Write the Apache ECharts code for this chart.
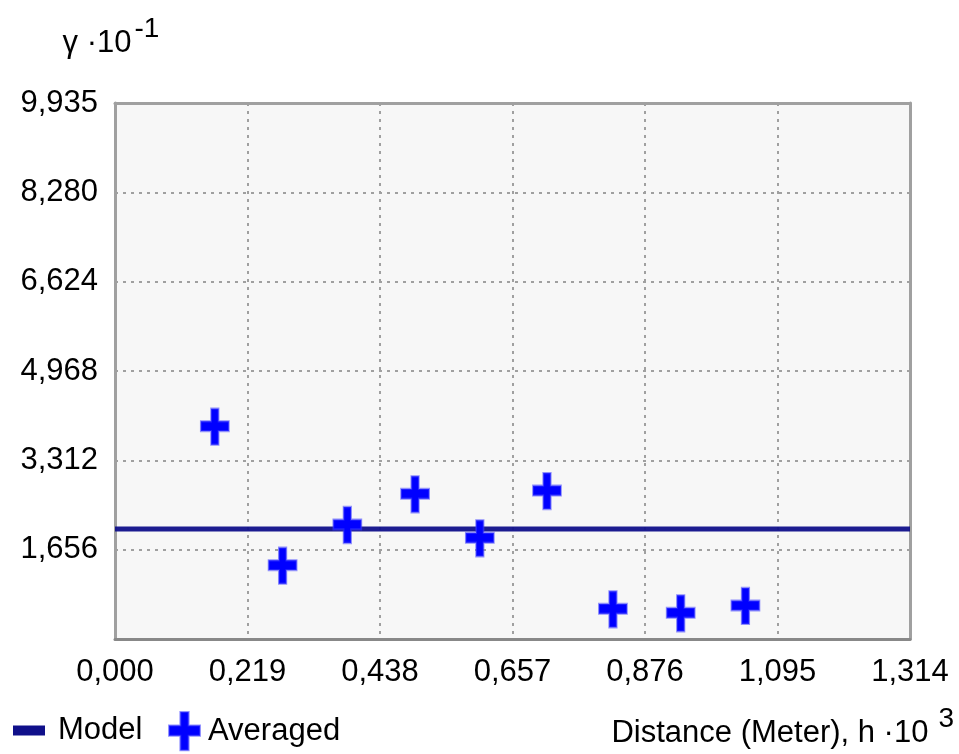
<!DOCTYPE html>
<html>
<head>
<meta charset="utf-8">
<script src="https://cdn.jsdelivr.net/npm/echarts@6/dist/echarts.min.js"></script>
<style>
  html, body { margin: 0; padding: 0; background: #ffffff; }
  #chart { width: 959px; height: 754px; }
</style>
</head>
<body>
<div id="chart"></div>
<script>
// Tick labels (decimal comma), as printed on the axes
const xTickLabels = ['0,000', '0,219', '0,438', '0,657', '0,876', '1,095', '1,314'];
const yTickLabels = ['', '1,656', '3,312', '4,968', '6,624', '8,280', '9,935'];

// Averaged semivariance per distance lag (h in 10^3 m, gamma in 10^-1)
const averagedX = [0.165, 0.277, 0.384, 0.496, 0.603, 0.714, 0.823, 0.935, 1.042];
const averagedY = [3.935, 1.359, 2.113, 2.682, 1.866, 2.743, 0.550, 0.476, 0.612];

// Fitted model: constant (pure nugget) level
const modelLevel = 2.039;

// Axis ranges
const xMax = 1.314;
const xStep = 0.219;
const yMax = 9.935;
const yStep = yMax / 6;

const FONT = "'Liberation Sans', Arial, sans-serif";
const FS = 31;
const PLUS = 'path://M11,0 H19 V13 H30 V23 H19 V37 H11 V23 H0 V13 H11 Z';

const chart = echarts.init(document.getElementById('chart'), null, { renderer: 'canvas' });

const dotted = { color: '#a0a0a0', width: 2, type: [3, 5] };

chart.setOption({
  animation: false,
  backgroundColor: '#ffffff',
  textStyle: { fontFamily: FONT, color: '#000' },
  grid: {
    left: 115, right: 49, top: 103, bottom: 115,
    show: true, backgroundColor: '#f7f7f7', borderWidth: 0
  },
  legend: [
    {
      data: [{ name: 'Model', icon: 'rect' }],
      left: 13, top: 715,
      itemWidth: 32, itemHeight: 10,
      padding: 0,
      textStyle: { fontFamily: FONT, fontSize: FS, color: '#000', padding: [0, 0, 0, 8] },
      selectedMode: false
    },
    {
      data: [{ name: 'Averaged', icon: PLUS }],
      left: 168, top: 711,
      itemWidth: 31, itemHeight: 40,
      padding: 0,
      textStyle: { fontFamily: FONT, fontSize: FS, color: '#000', padding: [0, 0, 0, 3] },
      selectedMode: false
    }
  ],
  xAxis: [
    {
      type: 'value', min: 0, max: xMax, interval: xStep,
      position: 'bottom',
      axisLine: { show: true, onZero: false, lineStyle: { color: '#888888', width: 3 } },
      axisTick: { show: false },
      splitLine: { show: true, lineStyle: dotted },
      axisLabel: {
        margin: 18, fontFamily: FONT, fontSize: FS, color: '#000',
        formatter: v => xTickLabels[Math.round(v / xStep)] ?? ''
      },
      name: '{m|Distance (Meter), h ·10}{s|3}',
      nameLocation: 'end',
      nameGap: 44,
      nameTextStyle: {
        align: 'right', verticalAlign: 'top', padding: [66, 0, 0, 0],
        rich: {
          m: { fontFamily: FONT, fontSize: FS, color: '#000', lineHeight: 44, verticalAlign: 'bottom' },
          s: { fontFamily: FONT, fontSize: 28, color: '#000', lineHeight: 14, verticalAlign: 'top', padding: [0, 0, 0, 10] }
        }
      }
    },
    {
      type: 'value', min: 0, max: xMax, position: 'top',
      axisLine: { show: true, onZero: false, lineStyle: { color: '#a0a0a0', width: 3 } },
      axisTick: { show: false }, axisLabel: { show: false }, splitLine: { show: false }
    }
  ],
  yAxis: [
    {
      type: 'value', min: 0, max: yMax, interval: yStep,
      position: 'left',
      axisLine: { show: true, onZero: false, lineStyle: { color: '#a0a0a0', width: 3 } },
      axisTick: { show: false },
      splitLine: { show: true, lineStyle: dotted },
      axisLabel: {
        margin: 17, fontFamily: FONT, fontSize: FS, color: '#000',
        formatter: v => yTickLabels[Math.round(v / yStep)] ?? ''
      },
      name: '{m|γ ·10}{s|-1}',
      nameLocation: 'end',
      nameGap: 44,
      nameTextStyle: {
        align: 'center', padding: [0, 8, 0, 0],
        rich: {
          m: { fontFamily: FONT, fontSize: FS, color: '#000', lineHeight: 44, verticalAlign: 'bottom' },
          s: { fontFamily: FONT, fontSize: 28, color: '#000', lineHeight: 12, verticalAlign: 'top', padding: [0, 0, 0, 3] }
        }
      }
    },
    {
      type: 'value', min: 0, max: yMax, position: 'right',
      axisLine: { show: true, onZero: false, lineStyle: { color: '#a0a0a0', width: 3 } },
      axisTick: { show: false }, axisLabel: { show: false }, splitLine: { show: false }
    }
  ],
  series: [
    {
      name: 'Model',
      type: 'line',
      xAxisIndex: 0, yAxisIndex: 0,
      data: [[0, modelLevel], [xMax, modelLevel]],
      showSymbol: false,
      itemStyle: { color: '#10108a' },
      lineStyle: { color: '#10108a', width: 5, opacity: 0.95 },
      z: 3
    },
    {
      name: 'Averaged',
      type: 'scatter',
      xAxisIndex: 0, yAxisIndex: 0,
      data: averagedX.map((x, i) => [x, averagedY[i]]),
      symbol: PLUS,
      symbolSize: [28, 36],
      itemStyle: { color: '#0000ff', borderColor: 'rgba(60,60,255,0.55)', borderWidth: 2, opacity: 1 },
      z: 4
    }
  ]
});
</script>
</body>
</html>
